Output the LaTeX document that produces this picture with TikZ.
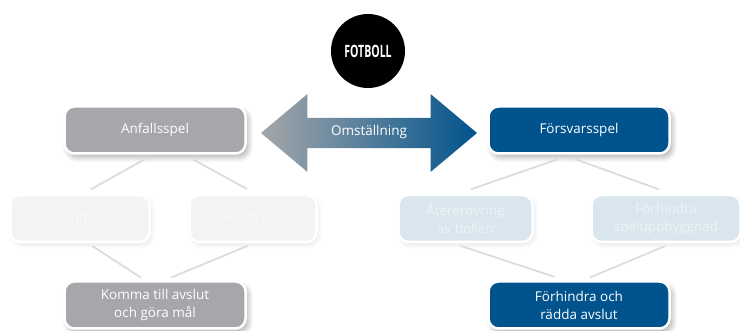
\documentclass[tikz,border=0pt]{standalone}
\usepackage{fontspec}
\setmainfont{Open Sans}
\usetikzlibrary{shapes.arrows,shadows.blur}

\begin{document}
\begin{tikzpicture}
    [x=1pt,y=-1pt,
     box/.style={rectangle,rounded corners=10pt,draw=white,line width=2.5pt,text=white,
       align=center,font=\fontsize{13.5}{18}\selectfont,minimum height=47pt,inner sep=0pt,
       blur shadow={shadow xshift=3pt,shadow yshift=-4pt,shadow blur steps=8,shadow blur radius=5pt,shadow opacity=30}},
     mainbox/.style={box,minimum width=181pt},
     grey/.style={mainbox,fill=boxgrey},
     blue/.style={mainbox,fill=boxblue},
     fadegrey/.style={box,fill=fadegreyfill,text=fadegreytext,blur shadow={shadow xshift=2pt,shadow yshift=-3pt,shadow blur steps=6,shadow blur radius=4pt,shadow opacity=5}},
     fadeblue/.style={box,fill=fadebluefill,text=fadebluetext,blur shadow={shadow xshift=2pt,shadow yshift=-3pt,shadow blur steps=6,shadow blur radius=4pt,shadow opacity=5}},
     link/.style={draw=linegrey,line width=1.8pt}]

    \definecolor{boxgrey}{HTML}{A5A7AA}
    \definecolor{boxblue}{HTML}{00538C}
    \definecolor{fadegreyfill}{HTML}{F3F3F3}
    \definecolor{fadegreytext}{HTML}{F9F9F9}
    \definecolor{fadebluefill}{HTML}{DAE6EE}
    \definecolor{fadebluetext}{HTML}{EDF3F7}
    \definecolor{linegrey}{HTML}{DCDCDC}

    \useasboundingbox (0,0) rectangle (740,331);

    \node[circle,fill=black,minimum size=74pt,inner sep=0pt,text=white] (sport) at (368,51)
      {\fontsize{17}{17}\selectfont\bfseries\scalebox{.62}[1]{FOTBOLL}};

    \node[double arrow,left color=boxgrey,right color=boxblue,text=white,inner xsep=0pt,inner ysep=3pt,
      minimum height=216pt,minimum width=78pt,double arrow head extend=22.5pt,double arrow tip angle=80,
      text height=14pt,text depth=8pt,font=\fontsize{13.5}{18}\selectfont] (switch) at (369,133) {Omställning};

    \node[grey] (attack) at (155,130) {Anfallsspel};
    \node[fadegrey,minimum width=139pt] (buildup) at (80,218.5) {Speluppbyggnad};
    \node[fadegrey,minimum width=127pt] (counter) at (253,218.5) {Kontring};
    \node[grey] (score) at (155,305) {Komma till avslut\\och göra mål};

    \node[blue] (defence) at (579,130) {Försvarsspel};
    \node[fadeblue,minimum width=134pt] (regain) at (465.5,218.5) {Återerövring\\av bollen};
    \node[fadeblue,minimum width=149pt] (prevent) at (666,218.5) {Förhindra\\speluppbyggnad};
    \node[blue] (save) at (579,305) {Förhindra och\\rädda avslut};

    \draw[link,shorten <=9pt,shorten >=9pt] (attack.-95) -- (buildup.83);
    \draw[link,shorten <=10pt,shorten >=10pt] (attack.-40) -- (counter.84);
    \draw[link,shorten <=5pt,shorten >=5pt] (buildup.-72) -- (score.112);
    \draw[link,shorten <=7pt,shorten >=7pt] (counter.-88) -- (score.69);

    \draw[link,shorten <=14pt,shorten >=14pt] (defence.-108) -- (regain.107);
    \draw[link,shorten <=13pt,shorten >=13pt] (defence.-123) -- (prevent.78);
    \draw[link,shorten <=8pt,shorten >=11pt] (regain.-117) -- (save.120);
    \draw[link,shorten <=7pt,shorten >=7pt] (prevent.-77) -- (save.80);
\end{tikzpicture}
\end{document}
